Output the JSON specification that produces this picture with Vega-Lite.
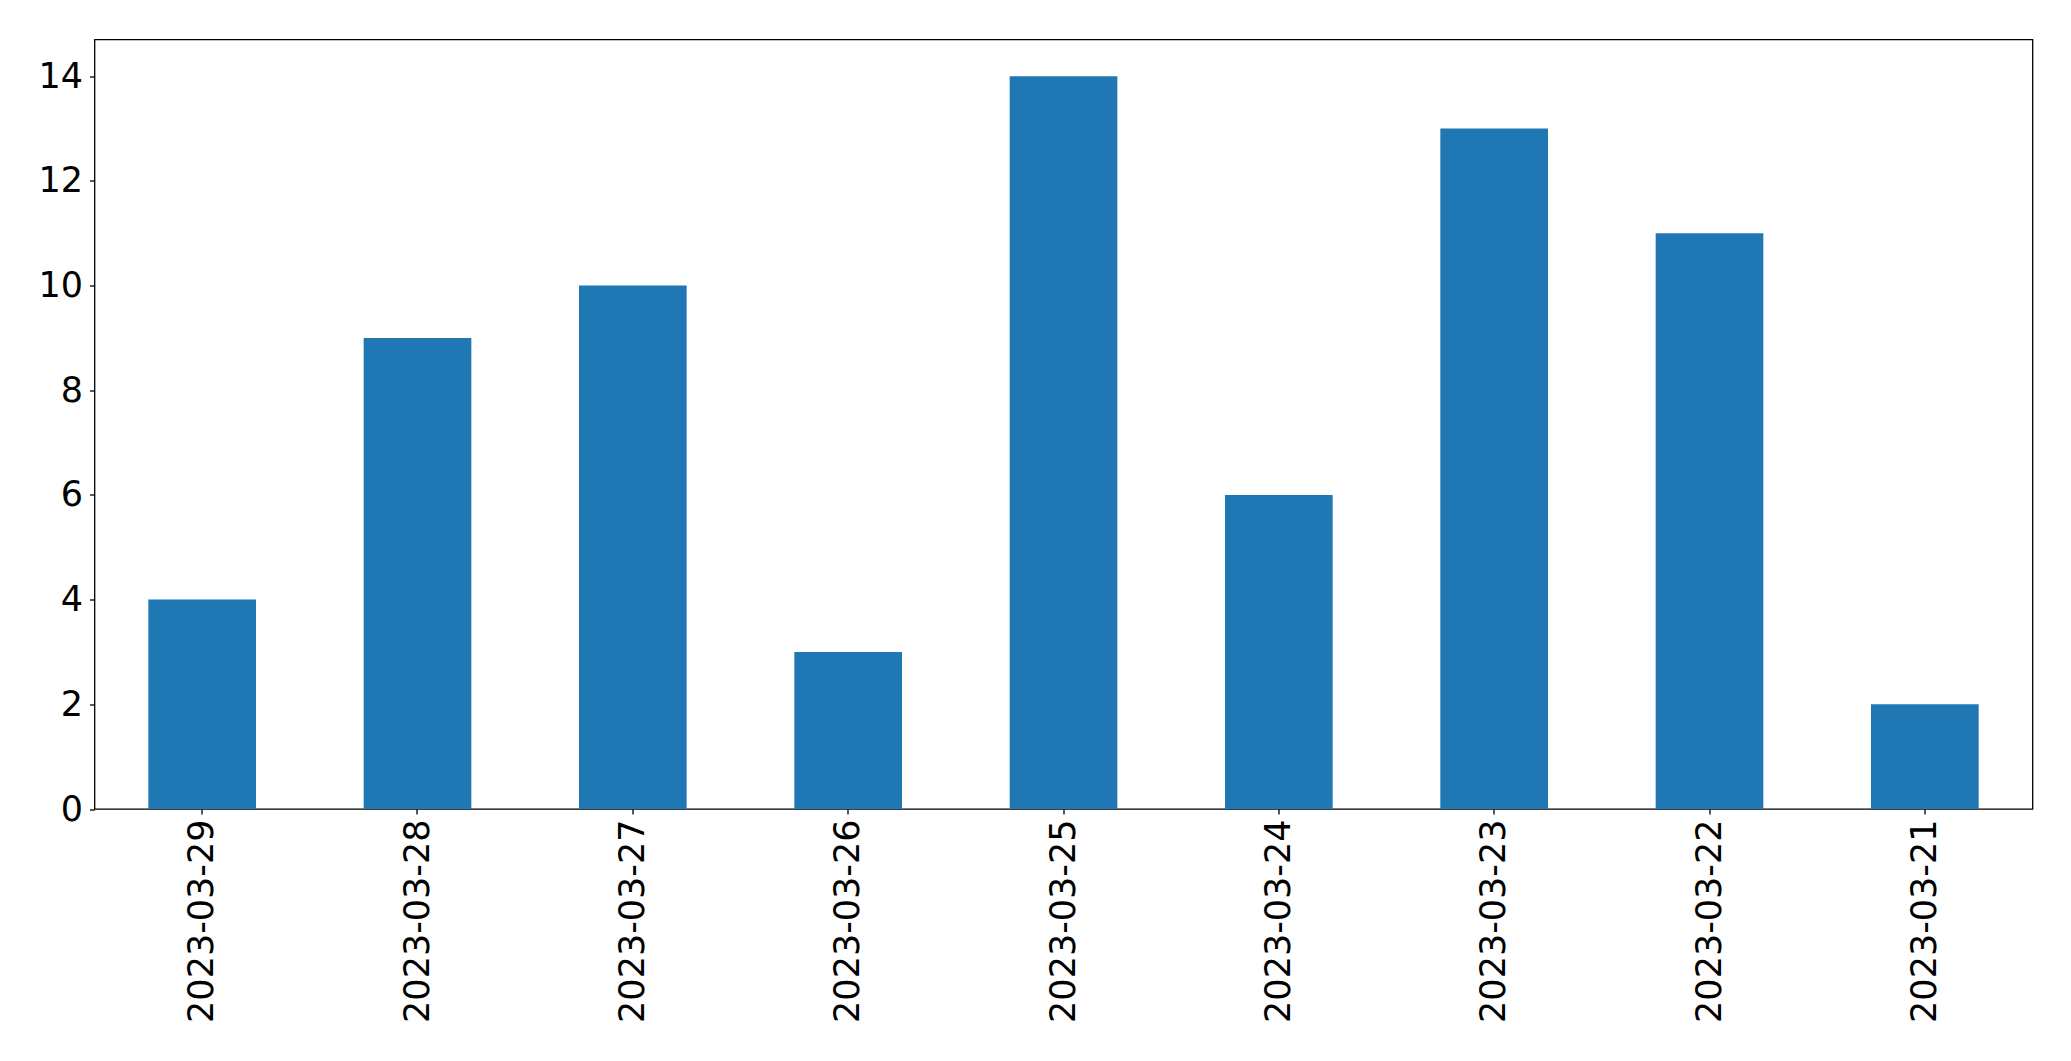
{
  "$schema": "https://vega.github.io/schema/vega-lite/v6.json",
  "autosize": "none",
  "padding": {"left": 94.5, "top": 39.5, "right": 38.5, "bottom": 252},
  "width": 1938,
  "height": 769.5,
  "background": "white",
  "config": {
    "view": {"stroke": "black", "strokeWidth": 1.3},
    "axis": {
      "labelFont": "DejaVu Sans",
      "labelFontSize": 35,
      "labelColor": "black",
      "labelLimit": 0,
      "tickColor": "black",
      "tickSize": 5,
      "tickWidth": 1.3,
      "domain": false,
      "grid": false,
      "title": null,
      "labelPadding": 5
    }
  },
  "data": {
    "values": [
      {"date": "2023-03-29", "count": 4},
      {"date": "2023-03-28", "count": 9},
      {"date": "2023-03-27", "count": 10},
      {"date": "2023-03-26", "count": 3},
      {"date": "2023-03-25", "count": 14},
      {"date": "2023-03-24", "count": 6},
      {"date": "2023-03-23", "count": 13},
      {"date": "2023-03-22", "count": 11},
      {"date": "2023-03-21", "count": 2}
    ]
  },
  "mark": {"type": "bar", "color": "#1f77b4"},
  "encoding": {
    "x": {
      "field": "date",
      "type": "nominal",
      "sort": null,
      "scale": {"paddingInner": 0.5, "paddingOuter": 0.25},
      "axis": {"labelAngle": -90, "labelAlign": "right", "labelBaseline": "middle"}
    },
    "y": {
      "field": "count",
      "type": "quantitative",
      "scale": {"domain": [0, 14.7], "nice": false, "zero": true},
      "axis": {"values": [0, 2, 4, 6, 8, 10, 12, 14], "labelPadding": 7}
    }
  }
}
